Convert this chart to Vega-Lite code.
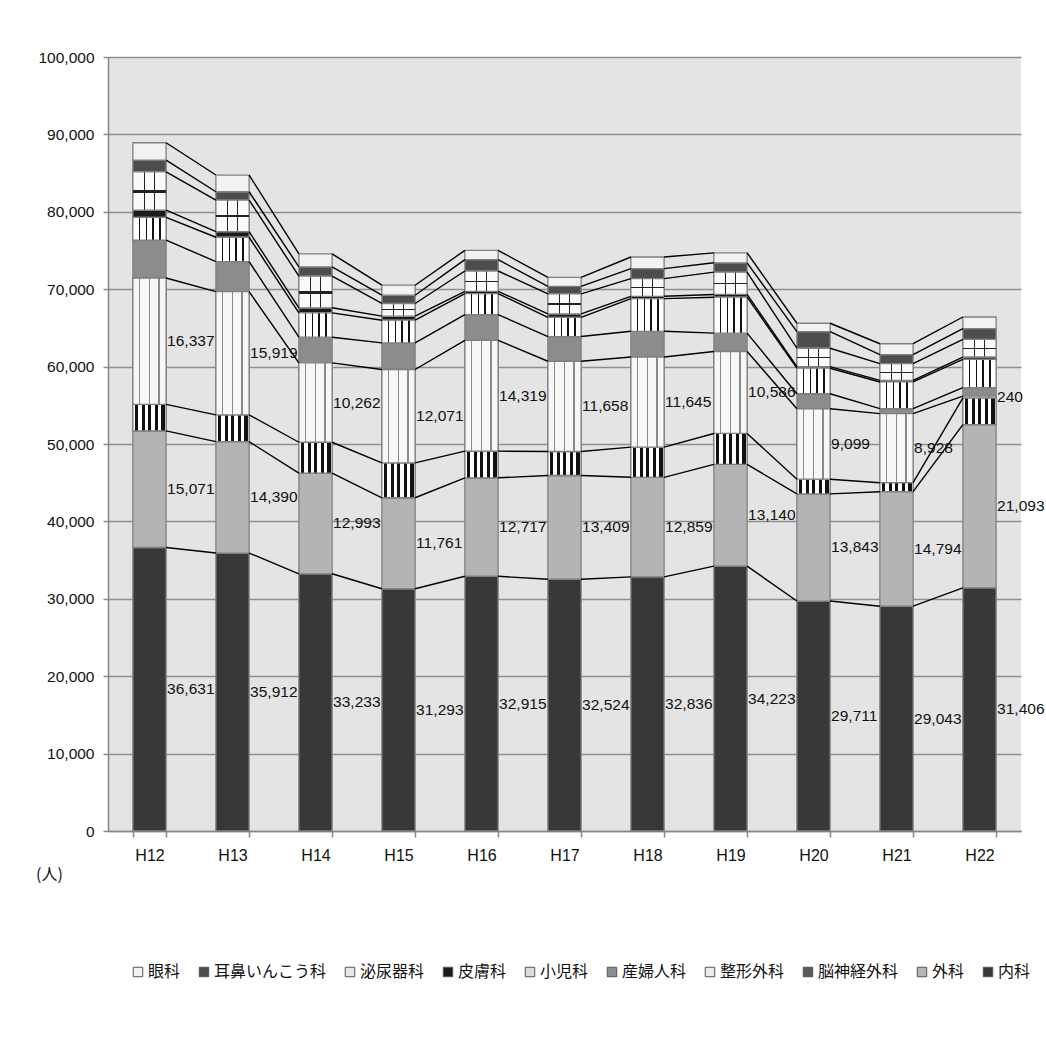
{
  "$schema": "https://vega.github.io/schema/vega-lite/v6.json",
  "autosize": {"type": "none"},
  "width": 913,
  "height": 774,
  "padding": {"left": 108, "top": 57, "right": 25, "bottom": 221},
  "background": "white",
  "config": {
    "view": {"fill": "#e4e4e4", "stroke": null},
    "font": "Liberation Sans"
  },
  "data": {"values": [
    {"year":"H12","dept":"内科","value":36631},{"year":"H12","dept":"外科","value":15071},{"year":"H12","dept":"脳神経外科","value":3410},{"year":"H12","dept":"整形外科","value":16337},{"year":"H12","dept":"産婦人科","value":4900},{"year":"H12","dept":"小児科","value":2930},{"year":"H12","dept":"皮膚科","value":940},{"year":"H12","dept":"泌尿器科","value":4950},{"year":"H12","dept":"耳鼻いんこう科","value":1510},{"year":"H12","dept":"眼科","value":2240},
    {"year":"H13","dept":"内科","value":35912},{"year":"H13","dept":"外科","value":14390},{"year":"H13","dept":"脳神経外科","value":3460},{"year":"H13","dept":"整形外科","value":15919},{"year":"H13","dept":"産婦人科","value":3880},{"year":"H13","dept":"小児科","value":3150},{"year":"H13","dept":"皮膚科","value":720},{"year":"H13","dept":"泌尿器科","value":4090},{"year":"H13","dept":"耳鼻いんこう科","value":1070},{"year":"H13","dept":"眼科","value":2160},
    {"year":"H14","dept":"内科","value":33233},{"year":"H14","dept":"外科","value":12993},{"year":"H14","dept":"脳神経外科","value":4000},{"year":"H14","dept":"整形外科","value":10262},{"year":"H14","dept":"産婦人科","value":3310},{"year":"H14","dept":"小児科","value":3150},{"year":"H14","dept":"皮膚科","value":650},{"year":"H14","dept":"泌尿器科","value":4080},{"year":"H14","dept":"耳鼻いんこう科","value":1210},{"year":"H14","dept":"眼科","value":1680},
    {"year":"H15","dept":"内科","value":31293},{"year":"H15","dept":"外科","value":11761},{"year":"H15","dept":"脳神経外科","value":4500},{"year":"H15","dept":"整形外科","value":12071},{"year":"H15","dept":"産婦人科","value":3440},{"year":"H15","dept":"小児科","value":2930},{"year":"H15","dept":"皮膚科","value":520},{"year":"H15","dept":"泌尿器科","value":1640},{"year":"H15","dept":"耳鼻いんこう科","value":1070},{"year":"H15","dept":"眼科","value":1290},
    {"year":"H16","dept":"内科","value":32915},{"year":"H16","dept":"外科","value":12717},{"year":"H16","dept":"脳神経外科","value":3450},{"year":"H16","dept":"整形外科","value":14319},{"year":"H16","dept":"産婦人科","value":3320},{"year":"H16","dept":"小児科","value":2710},{"year":"H16","dept":"皮膚科","value":300},{"year":"H16","dept":"泌尿器科","value":2620},{"year":"H16","dept":"耳鼻いんこう科","value":1470},{"year":"H16","dept":"眼科","value":1200},
    {"year":"H17","dept":"内科","value":32524},{"year":"H17","dept":"外科","value":13409},{"year":"H17","dept":"脳神経外科","value":3100},{"year":"H17","dept":"整形外科","value":11658},{"year":"H17","dept":"産婦人科","value":3190},{"year":"H17","dept":"小児科","value":2490},{"year":"H17","dept":"皮膚科","value":440},{"year":"H17","dept":"泌尿器科","value":2580},{"year":"H17","dept":"耳鼻いんこう科","value":980},{"year":"H17","dept":"眼科","value":1160},
    {"year":"H18","dept":"内科","value":32836},{"year":"H18","dept":"外科","value":12859},{"year":"H18","dept":"脳神経外科","value":3900},{"year":"H18","dept":"整形外科","value":11645},{"year":"H18","dept":"産婦人科","value":3320},{"year":"H18","dept":"小児科","value":4220},{"year":"H18","dept":"皮膚科","value":300},{"year":"H18","dept":"泌尿器科","value":2290},{"year":"H18","dept":"耳鼻いんこう科","value":1290},{"year":"H18","dept":"眼科","value":1500},
    {"year":"H19","dept":"内科","value":34223},{"year":"H19","dept":"外科","value":13140},{"year":"H19","dept":"脳神経外科","value":4000},{"year":"H19","dept":"整形外科","value":10586},{"year":"H19","dept":"産婦人科","value":2370},{"year":"H19","dept":"小児科","value":4650},{"year":"H19","dept":"皮膚科","value":350},{"year":"H19","dept":"泌尿器科","value":2880},{"year":"H19","dept":"耳鼻いんこう科","value":1210},{"year":"H19","dept":"眼科","value":1290},
    {"year":"H20","dept":"内科","value":29711},{"year":"H20","dept":"外科","value":13843},{"year":"H20","dept":"脳神経外科","value":1900},{"year":"H20","dept":"整形外科","value":9099},{"year":"H20","dept":"産婦人科","value":1940},{"year":"H20","dept":"小児科","value":3300},{"year":"H20","dept":"皮膚科","value":200},{"year":"H20","dept":"泌尿器科","value":2380},{"year":"H20","dept":"耳鼻いんこう科","value":2140},{"year":"H20","dept":"眼科","value":1090},
    {"year":"H21","dept":"内科","value":29043},{"year":"H21","dept":"外科","value":14794},{"year":"H21","dept":"脳神経外科","value":1160},{"year":"H21","dept":"整形外科","value":8928},{"year":"H21","dept":"産婦人科","value":650},{"year":"H21","dept":"小児科","value":3440},{"year":"H21","dept":"皮膚科","value":200},{"year":"H21","dept":"泌尿器科","value":2160},{"year":"H21","dept":"耳鼻いんこう科","value":1160},{"year":"H21","dept":"眼科","value":1420},
    {"year":"H22","dept":"内科","value":31406},{"year":"H22","dept":"外科","value":21093},{"year":"H22","dept":"脳神経外科","value":3450},{"year":"H22","dept":"整形外科","value":240},{"year":"H22","dept":"産婦人科","value":1090},{"year":"H22","dept":"小児科","value":3660},{"year":"H22","dept":"皮膚科","value":300},{"year":"H22","dept":"泌尿器科","value":2290},{"year":"H22","dept":"耳鼻いんこう科","value":1380},{"year":"H22","dept":"眼科","value":1500}
  ]},
  "transform": [
    {"calculate": "indexof(['内科','外科','脳神経外科','整形外科','産婦人科','小児科','皮膚科','泌尿器科','耳鼻いんこう科','眼科'], datum.dept)", "as": "ord"},
    {"stack": "value", "groupby": ["year"], "sort": [{"field": "ord", "order": "ascending"}], "as": ["y0", "y1"]},
    {"window": [{"op": "lead", "field": "y1", "as": "ny1"}, {"op": "lead", "field": "year", "as": "nyear"}], "groupby": ["dept"], "sort": [{"field": "year", "order": "ascending"}]},
    {"calculate": "(datum.y0 + datum.y1) / 2", "as": "mid"}
  ],
  "encoding": {
    "x": {
      "field": "year", "type": "nominal",
      "scale": {"paddingInner": 0.6, "paddingOuter": 0.3},
      "axis": {
        "title": null, "labelAngle": 0, "labelFont": "Liberation Sans", "labelFontSize": 16, "labelColor": "#111",
        "labelPadding": 10, "tickBand": "extent", "tickSize": 6, "tickColor": "#888", "tickWidth": 1.5,
        "domainColor": "#888", "domainWidth": 1.5, "grid": false
      }
    }
  },
  "layer": [
    {
      "mark": {"type": "bar", "stroke": "#808080", "strokeWidth": 1.3},
      "encoding": {
        "y": {
          "field": "y0", "type": "quantitative",
          "scale": {"domain": [0, 100000], "nice": false},
          "axis": {
            "values": [0,10000,20000,30000,40000,50000,60000,70000,80000,90000,100000],
            "format": ",.0f", "labelFont": "Liberation Sans", "labelFontSize": 15.5, "labelColor": "#111",
            "labelPadding": 9, "tickSize": 5, "tickColor": "#888", "tickWidth": 1.5,
            "domainColor": "#888", "domainWidth": 1.5,
            "grid": true, "gridColor": "#8e8e8e", "gridWidth": 1.5,
            "title": "(人)", "titleAngle": 0, "titleX": -59, "titleY": 817, "titleAlign": "center", "titleBaseline": "middle",
            "titleFont": "Noto Sans CJK JP", "titleFontSize": 16, "titleFontWeight": "normal", "titleColor": "#111"
          }
        },
        "y2": {"field": "y1"},
        "color": {
          "field": "dept", "type": "nominal",
          "scale": {
            "domain": ["眼科","耳鼻いんこう科","泌尿器科","皮膚科","小児科","産婦人科","整形外科","脳神経外科","外科","内科"],
            "range": ["#f2f2f2","#4d4d4d","#e8e8e8","#1c1c1c","#dcdcdc","#8c8c8c","#ececec","#5a5a5a","#b4b4b4","#383838"]
          },
          "legend": {
            "orient": "none", "legendX": 22, "legendY": 907, "direction": "horizontal", "title": null,
            "labelFont": "Noto Sans CJK JP", "labelFontSize": 16, "labelColor": "#111", "labelOffset": 2,
            "symbolType": "square", "symbolSize": 90, "symbolStrokeColor": "#555", "symbolStrokeWidth": 1,
            "columnPadding": 15
          }
        }
      }
    },
    {
      "transform": [{"filter": "datum.dept === '脳神経外科'"}],
      "mark": {"type": "bar", "stroke": "#808080", "strokeWidth": 1.3,
        "fill": {"gradient": "linear", "x1": 0, "y1": 0, "x2": 1, "y2": 0, "stops": [
          {"offset": 0, "color": "#ffffff"}, {"offset": 0.06, "color": "#ffffff"}, {"offset": 0.06, "color": "#111111"}, {"offset": 0.16, "color": "#111111"},
          {"offset": 0.16, "color": "#ffffff"}, {"offset": 0.26, "color": "#ffffff"}, {"offset": 0.26, "color": "#111111"}, {"offset": 0.36, "color": "#111111"},
          {"offset": 0.36, "color": "#ffffff"}, {"offset": 0.46, "color": "#ffffff"}, {"offset": 0.46, "color": "#111111"}, {"offset": 0.56, "color": "#111111"},
          {"offset": 0.56, "color": "#ffffff"}, {"offset": 0.66, "color": "#ffffff"}, {"offset": 0.66, "color": "#111111"}, {"offset": 0.76, "color": "#111111"},
          {"offset": 0.76, "color": "#ffffff"}, {"offset": 0.86, "color": "#ffffff"}, {"offset": 0.86, "color": "#111111"}, {"offset": 0.96, "color": "#111111"},
          {"offset": 0.96, "color": "#ffffff"}, {"offset": 1, "color": "#ffffff"}
        ]}},
      "encoding": {"y": {"field": "y0", "type": "quantitative"}, "y2": {"field": "y1"}}
    },
    {
      "transform": [{"filter": "datum.dept === '整形外科'"}],
      "mark": {"type": "bar", "stroke": "#808080", "strokeWidth": 1.3,
        "fill": {"gradient": "linear", "x1": 0, "y1": 0, "x2": 1, "y2": 0, "stops": [
          {"offset": 0, "color": "#f7f7f7"}, {"offset": 0.17, "color": "#f7f7f7"}, {"offset": 0.17, "color": "#8a8a8a"}, {"offset": 0.21, "color": "#8a8a8a"},
          {"offset": 0.21, "color": "#f7f7f7"}, {"offset": 0.47, "color": "#f7f7f7"}, {"offset": 0.47, "color": "#8a8a8a"}, {"offset": 0.51, "color": "#8a8a8a"},
          {"offset": 0.51, "color": "#f7f7f7"}, {"offset": 0.77, "color": "#f7f7f7"}, {"offset": 0.77, "color": "#8a8a8a"}, {"offset": 0.81, "color": "#8a8a8a"},
          {"offset": 0.81, "color": "#f7f7f7"}, {"offset": 1, "color": "#f7f7f7"}
        ]}},
      "encoding": {"y": {"field": "y0", "type": "quantitative"}, "y2": {"field": "y1"}}
    },
    {
      "transform": [{"filter": "datum.dept === '小児科'"}],
      "mark": {"type": "bar", "stroke": "#808080", "strokeWidth": 1.3,
        "fill": {"gradient": "linear", "x1": 0, "y1": 0, "x2": 1, "y2": 0, "stops": [
          {"offset": 0, "color": "#ffffff"}, {"offset": 0.17, "color": "#ffffff"}, {"offset": 0.17, "color": "#111111"}, {"offset": 0.21, "color": "#111111"},
          {"offset": 0.21, "color": "#ffffff"}, {"offset": 0.38, "color": "#ffffff"}, {"offset": 0.38, "color": "#111111"}, {"offset": 0.42, "color": "#111111"},
          {"offset": 0.42, "color": "#ffffff"}, {"offset": 0.59, "color": "#ffffff"}, {"offset": 0.59, "color": "#111111"}, {"offset": 0.63, "color": "#111111"},
          {"offset": 0.63, "color": "#ffffff"}, {"offset": 0.8, "color": "#ffffff"}, {"offset": 0.8, "color": "#111111"}, {"offset": 0.84, "color": "#111111"},
          {"offset": 0.84, "color": "#ffffff"}, {"offset": 1, "color": "#ffffff"}
        ]}},
      "encoding": {"y": {"field": "y0", "type": "quantitative"}, "y2": {"field": "y1"}}
    },
    {
      "transform": [{"filter": "datum.dept === '泌尿器科'"}],
      "mark": {"type": "bar", "stroke": "#808080", "strokeWidth": 1.3,
        "fill": {"gradient": "linear", "x1": 0, "y1": 0, "x2": 1, "y2": 0, "stops": [
          {"offset": 0, "color": "#fafafa"}, {"offset": 0.32, "color": "#fafafa"}, {"offset": 0.32, "color": "#222222"}, {"offset": 0.36, "color": "#222222"},
          {"offset": 0.36, "color": "#fafafa"}, {"offset": 0.64, "color": "#fafafa"}, {"offset": 0.64, "color": "#222222"}, {"offset": 0.68, "color": "#222222"},
          {"offset": 0.68, "color": "#fafafa"}, {"offset": 1, "color": "#fafafa"}
        ]}},
      "encoding": {"y": {"field": "y0", "type": "quantitative"}, "y2": {"field": "y1"}}
    },
    {
      "transform": [{"filter": "datum.dept === '泌尿器科'"}],
      "mark": {"type": "bar", "strokeWidth": 0,
        "fill": {"gradient": "linear", "x1": 0, "y1": 0, "x2": 0, "y2": 1, "stops": [
          {"offset": 0, "color": "rgba(0,0,0,0)"}, {"offset": 0.47, "color": "rgba(0,0,0,0)"}, {"offset": 0.47, "color": "#222222"}, {"offset": 0.55, "color": "#222222"},
          {"offset": 0.55, "color": "rgba(0,0,0,0)"}, {"offset": 1, "color": "rgba(0,0,0,0)"}
        ]}},
      "encoding": {"y": {"field": "y0", "type": "quantitative"}, "y2": {"field": "y1"}}
    },
    {
      "transform": [{"filter": "datum.nyear != null"}],
      "mark": {"type": "rule", "color": "#000000", "strokeWidth": 1.4},
      "encoding": {
        "x": {"field": "year", "type": "nominal", "bandPosition": 1},
        "x2": {"field": "nyear", "bandPosition": 0},
        "y": {"field": "y1", "type": "quantitative"},
        "y2": {"field": "ny1"}
      }
    },
    {
      "transform": [{"filter": "datum.dept === '内科' || datum.dept === '外科' || datum.dept === '整形外科'"}],
      "mark": {"type": "text", "align": "left", "baseline": "middle", "dx": 1, "font": "Liberation Sans", "fontSize": 15.5, "color": "#111"},
      "encoding": {
        "x": {"field": "year", "type": "nominal", "bandPosition": 1},
        "y": {"field": "mid", "type": "quantitative"},
        "text": {"field": "value", "type": "quantitative", "format": ","}
      }
    }
  ]
}
